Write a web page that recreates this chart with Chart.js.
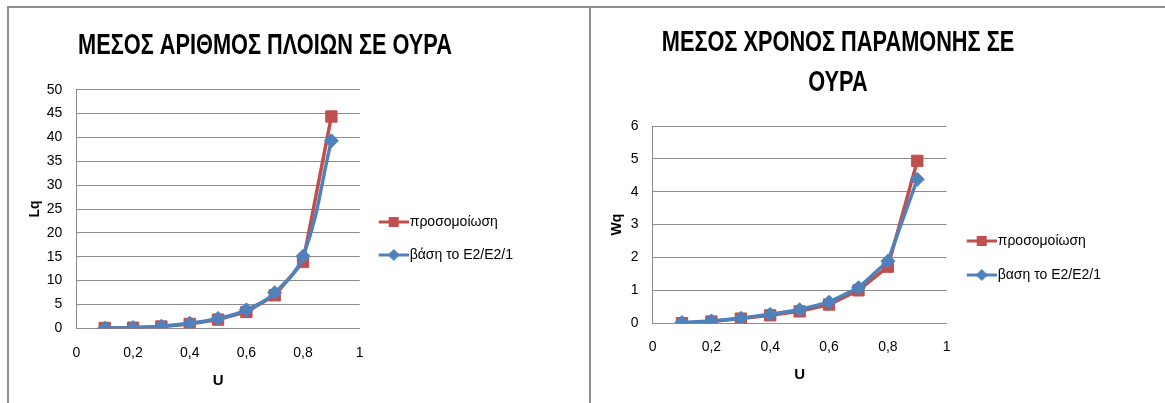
<!DOCTYPE html>
<html>
<head>
<meta charset="utf-8">
<script src="https://cdn.jsdelivr.net/npm/chart.js@4/dist/chart.umd.min.js"></script>
<style>
  body { margin: 0; background: #fff; width: 1165px; height: 403px; overflow: hidden; position: relative; }
  .box { position: absolute; top: 6px; border-top: 2px solid #8e8e8e; border-left: 2px solid #8e8e8e; }
  #boxLq { left: 7px; width: 580px; height: 395px; }
  #boxWq { left: 589px; width: 574px; height: 395px; }
</style>
</head>
<body>
<div class="box" id="boxLq"><canvas id="chartLq" width="580" height="395"></canvas></div>
<div class="box" id="boxWq"><canvas id="chartWq" width="574" height="395"></canvas></div>
<script>
// Datos
const uValues = [0.1, 0.2, 0.3, 0.4, 0.5, 0.6, 0.7, 0.8, 0.9];
const lqSim = [0.05, 0.1, 0.35, 0.9, 1.8, 3.4, 6.9, 13.9, 44.4];
const lqTheory = [0.02, 0.13, 0.43, 1.05, 2.05, 3.85, 7.45, 15.1, 39.3];
const wqSim = [0.0, 0.05, 0.14, 0.24, 0.36, 0.57, 1.0, 1.72, 4.94];
const wqTheory = [0.02, 0.07, 0.15, 0.27, 0.41, 0.64, 1.08, 1.89, 4.38];
const xTicks = [0, 0.2, 0.4, 0.6, 0.8, 1];

const RED = '#C0504D';
const BLUE = '#4F81BD';
const GRID = '#8c8c8c';
const BODY_FONT = "'Liberation Sans', Arial, sans-serif";

Chart.defaults.font.family = BODY_FONT;
Chart.defaults.color = '#000';
Chart.defaults.animation = false;

function toPoints(ys) {
    return uValues.map((u, i) => ({ x: u, y: ys[i] }));
}

// Iconos de la leyenda: linea con marcador (margen transparente a la izquierda)
function legendIcon(color, shape) {
    const c = document.createElement('canvas');
    c.width = 36; c.height = 14;
    const ctx = c.getContext('2d');
    ctx.strokeStyle = color;
    ctx.fillStyle = color;
    ctx.lineWidth = 3;
    ctx.beginPath();
    ctx.moveTo(6, 7); ctx.lineTo(36, 7);
    ctx.stroke();
    ctx.beginPath();
    if (shape == 'square') {
        ctx.rect(16, 2, 10, 10);
    } else {
        ctx.moveTo(21, 1); ctx.lineTo(27, 7); ctx.lineTo(21, 13); ctx.lineTo(15, 7);
        ctx.closePath();
    }
    ctx.fill();
    return c;
}
const icons = [legendIcon(RED, 'square'), legendIcon(BLUE, 'diamond')];

// Titulo angosto (tipo Calibri bold): se dibuja encima del titulo reservado
const narrowTitle = {
    id: 'narrowTitle',
    afterDraw(chart, args, opts) {
        const block = chart.titleBlock;
        const tOpts = chart.options.plugins.title;
        const lines = [].concat(tOpts.text);
        const lh = opts.size * opts.lineHeight;
        const ctx = chart.ctx;
        ctx.save();
        ctx.font = 'bold ' + opts.size + 'px ' + BODY_FONT;
        ctx.fillStyle = '#000';
        ctx.textAlign = 'center';
        ctx.textBaseline = 'middle';
        lines.forEach((line, i) => {
            const y = block.top + tOpts.padding.top + lh * (i + 0.5);
            ctx.save();
            ctx.translate(opts.x, y);
            ctx.scale(opts.scaleX, 1);
            ctx.fillText(line, 0, 0);
            ctx.restore();
        });
        ctx.restore();
    },
};

function buildChart(canvasId, cfg) {
    const datasets = [{
            label: 'προσομοίωση',
            data: toPoints(cfg.sim),
            borderColor: RED,
            backgroundColor: RED,
            borderWidth: 3.5,
            pointStyle: 'rect',
            pointRadius: 8,
            pointBorderWidth: 1,
            tension: 0,
            order: 1,
        }, {
            label: cfg.theoryLabel,
            data: toPoints(cfg.theory),
            borderColor: BLUE,
            backgroundColor: BLUE,
            borderWidth: 3.5,
            pointStyle: 'rectRot',
            pointRadius: 7,
            pointBorderWidth: 1,
            tension: cfg.tension,
            order: 0,
        },
    ];

    return new Chart(document.getElementById(canvasId), {
        type: 'line',
        data: { datasets: datasets },
        plugins: [narrowTitle],
        options: {
            responsive: false,
            layout: { padding: { top: cfg.padTop, right: cfg.padRight, bottom: 0, left: 0 } },
            plugins: {
                tooltip: { enabled: false },
                narrowTitle: { x: cfg.titleX, size: 29, lineHeight: cfg.titleLineHeight, scaleX: 0.75 },
                title: {
                    display: true,
                    text: cfg.title,
                    color: 'rgba(0,0,0,0)',
                    font: { size: 29, weight: 'bold', lineHeight: cfg.titleLineHeight },
                    padding: { top: 0, bottom: cfg.titleBottom },
                },
                legend: {
                    position: 'right',
                    align: 'center',
                    maxWidth: 220,
                    title: { display: true, text: '', font: { size: 10 }, padding: { top: cfg.legendShift, bottom: 0 } },
                    labels: {
                        usePointStyle: true,
                        pointStyleWidth: 24,
                        boxHeight: 14,
                        padding: cfg.legendPad,
                        font: { size: 14 },
                        color: '#000',
                        sort: (a, b) => a.datasetIndex - b.datasetIndex,
                        generateLabels: (chart) => {
                            let items = Chart.defaults.plugins.legend.labels.generateLabels(chart);
                            for (let item of items) {
                                item.pointStyle = icons[item.datasetIndex];
                            }
                            return items;
                        },
                    },
                },
            },
            scales: {
                x: {
                    type: 'linear',
                    min: 0,
                    max: 1,
                    afterBuildTicks: (axis) => { axis.ticks = xTicks.map(v => ({ value: v })); },
                    grid: { display: false, drawTicks: false },
                    border: { display: true, color: GRID, width: 1 },
                    ticks: {
                        padding: cfg.xTickPad,
                        font: { size: 14 },
                        color: '#000',
                        maxRotation: 0,
                        callback: (v) => String(v).replace('.', ','),
                    },
                    title: {
                        display: true,
                        text: 'U',
                        font: { size: 15, weight: 'bold' },
                        padding: { top: cfg.xTitleTop, bottom: cfg.xTitleBottom },
                    },
                },
                y: {
                    min: 0,
                    max: cfg.yMax,
                    ticks: { stepSize: cfg.yStep, padding: 14, font: { size: 14 }, color: '#000' },
                    grid: { color: GRID, drawTicks: false },
                    border: { display: true, color: GRID, width: 1 },
                    title: {
                        display: true,
                        text: cfg.yLabel,
                        font: { size: 14, weight: 'bold' },
                        padding: { top: 18, bottom: cfg.yTitleBottom },
                    },
                },
            },
        },
    });
}

// Grafico 1 - Lq
buildChart('chartLq', {
    title: 'ΜΕΣΟΣ ΑΡΙΘΜΟΣ ΠΛΟΙΩΝ ΣΕ ΟΥΡΑ',
    titleX: 256,
    titleLineHeight: 1.2,
    padTop: 21,
    titleBottom: 26,
    padRight: 66,
    legendPad: 19,
    legendShift: 33,
    theoryLabel: 'βάση το E2/E2/1',
    sim: lqSim,
    theory: lqTheory,
    tension: 0.4,
    yMax: 50,
    yStep: 5,
    yLabel: 'Lq',
    yTitleBottom: -11,
    xTickPad: 17,
    xTitleTop: -7,
    xTitleBottom: 13,
});

// Grafico 2 - Wq
buildChart('chartWq', {
    title: ['ΜΕΣΟΣ ΧΡΟΝΟΣ ΠΑΡΑΜΟΝΗΣ ΣΕ', 'ΟΥΡΑ'],
    titleX: 247,
    titleLineHeight: 1.38,
    padTop: 15,
    titleBottom: 23,
    padRight: 54,
    legendPad: 20,
    legendShift: 78,
    theoryLabel: 'βαση το E2/E2/1',
    sim: wqSim,
    theory: wqTheory,
    tension: 0,
    yMax: 6,
    yStep: 1,
    yLabel: 'Wq',
    yTitleBottom: -9,
    xTickPad: 16,
    xTitleTop: -6,
    xTitleBottom: 19,
});
</script>
</body>
</html>
